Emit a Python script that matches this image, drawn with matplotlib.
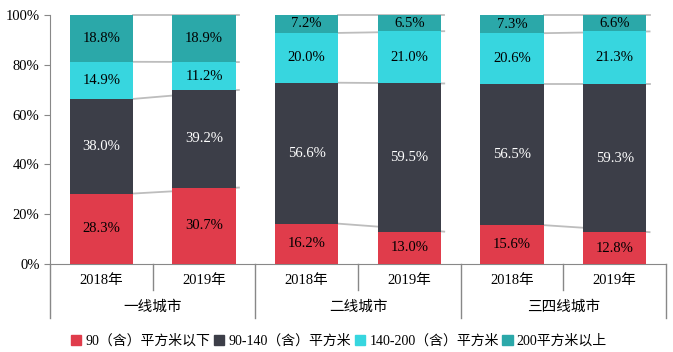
import matplotlib.pyplot as plt
import matplotlib.transforms as mtransforms
import numpy as np

plt.rcParams['font.family'] = ['Liberation Serif', 'Noto Sans CJK SC']

groups = ["一线城市", "二线城市", "三四线城市"]
years = ["2018年", "2019年"]
series_names = ["90（含）平方米以下", "90-140（含）平方米", "140-200（含）平方米", "200平方米以上"]
colors = ["#E03C4B", "#3C3E48", "#37D6DF", "#2BA8A9"]
text_colors = ["black", "white", "black", "black"]

below_90 = [28.3, 30.7, 16.2, 13.0, 15.6, 12.8]
from_90_140 = [38.0, 39.2, 56.6, 59.5, 56.5, 59.3]
from_140_200 = [14.9, 11.2, 20.0, 21.0, 20.6, 21.3]
above_200 = [18.8, 18.9, 7.2, 6.5, 7.3, 6.6]

series = [below_90, from_90_140, from_140_200, above_200]

fig = plt.figure(figsize=(6.73, 3.52), dpi=100)
ax = fig.add_axes([50 / 673, 88 / 352, 616 / 673, 249 / 352])

x = np.arange(6)
w = 0.62
bottoms = np.zeros(6)
tops = []
for vals, c, tc in zip(series, colors, text_colors):
    vals = np.array(vals)
    ax.bar(x, vals, w, bottom=bottoms, color=c, zorder=3)
    for xi, b, v in zip(x, bottoms, vals):
        ax.text(xi, b + v / 2, f"{v:.1f}%", ha="center", va="center",
                color=tc, fontsize=10.5, zorder=4)
    bottoms = bottoms + vals
    tops.append(bottoms.copy())

# series lines between the two years of each group
for g in range(3):
    i, j = 2 * g, 2 * g + 1
    for t in tops:
        ax.plot([i + w / 2, j + w / 2 + 0.03], [min(t[i], 100), min(t[j], 100)],
                color="#BDBDBD", lw=1.3, zorder=2, clip_on=False)

ax.set_xlim(-0.5, 5.5)
ax.set_ylim(0, 100)
ax.set_yticks(range(0, 101, 20))
ax.set_yticklabels([f"{v}%" for v in range(0, 101, 20)], fontsize=10.5)
ax.set_xticks([])
for s in ["top", "right"]:
    ax.spines[s].set_visible(False)
ax.spines["left"].set_color("#888888")
ax.spines["bottom"].set_color("#888888")
ax.tick_params(axis="y", color="#888888", length=4)

trans = mtransforms.blended_transform_factory(ax.transData, ax.transAxes)
for xs in [0.5, 2.5, 4.5]:
    ax.plot([xs, xs], [0, -0.106], color="#888888", lw=1, transform=trans, clip_on=False)
for xs in [-0.5, 1.5, 3.5, 5.5]:
    ax.plot([xs, xs], [0, -0.218], color="#888888", lw=1, transform=trans, clip_on=False)
for xi in x:
    ax.text(xi, -0.068, years[xi % 2], ha="center", va="center", fontsize=10.5,
            transform=trans)
for g, name in enumerate(groups):
    ax.text(2 * g + 0.5, -0.172, name, ha="center", va="center", fontsize=10.5,
            transform=trans)

handles = [plt.Rectangle((0, 0), 1, 1, color=c) for c in colors]
fig.legend(handles, series_names, loc="center", bbox_to_anchor=(339 / 673, 1 - 341 / 352),
           ncol=4, frameon=False, fontsize=10, handlelength=0.75, handleheight=0.75,
           handletextpad=0.3, columnspacing=0.25)

fig.savefig("out.png", dpi=100)
